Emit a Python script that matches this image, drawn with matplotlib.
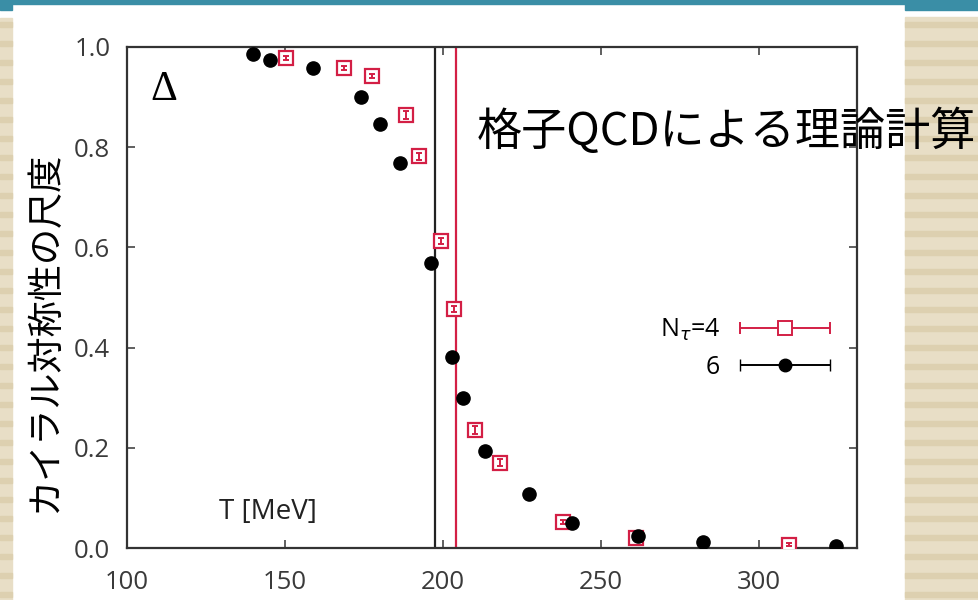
import matplotlib
matplotlib.use("Agg")
import matplotlib.pyplot as plt
from matplotlib.patches import Rectangle
from matplotlib.container import ErrorbarContainer
from matplotlib.legend_handler import HandlerErrorbar
import numpy as np

# chiral condensate measure vs temperature (lattice QCD)
t_n4 = [150.3, 168.7, 177.5, 188.3, 192.4, 199.4, 203.5, 210.1, 218.0, 238.0, 261.0, 309.5]
d_n4 = [0.978, 0.958, 0.942, 0.864, 0.782, 0.612, 0.478, 0.236, 0.170, 0.052, 0.020, 0.006]
e_n4 = [0.004, 0.004, 0.004, 0.008, 0.007, 0.006, 0.006, 0.008, 0.007, 0.004, 0.004, 0.003]

t_n6 = [139.9, 145.3, 158.9, 174.0, 180.0, 186.4, 196.2, 202.8, 206.3, 213.3, 227.2, 240.8, 261.7, 282.3, 324.4]
d_n6 = [0.986, 0.974, 0.958, 0.900, 0.846, 0.768, 0.568, 0.382, 0.300, 0.194, 0.108, 0.050, 0.024, 0.012, 0.004]

tc_n6 = 197.5
tc_n4 = 204.0

x_ticks = [100, 150, 200, 250, 300]
y_ticks = [0.0, 0.2, 0.4, 0.6, 0.8, 1.0]

RED = '#d31f45'
TEAL = '#3a8ea6'
BEIGE = '#e8dec6'
STRIPE = '#ddd0b0'

fig = plt.figure(figsize=(9.79, 6.0), dpi=100)
W, H = 979, 600

def px_rect(x0, y0, x1, y1, color):
    # rectangle given in pixel coords from top-left
    fig.patches.append(Rectangle((x0 / W, 1 - y1 / H), (x1 - x0) / W, (y1 - y0) / H,
                                 transform=fig.transFigure, color=color, zorder=0))

# slide background: teal bar and striped beige side panels
px_rect(0, 0, W, 4, TEAL)
px_rect(0, 0, 12, 10, TEAL)
px_rect(905, 0, W, 10, TEAL)
px_rect(0, 18, 12, H, BEIGE)
px_rect(905, 17, W, H, BEIGE)
for y in range(22, H, 19):
    px_rect(0, y, 12, y + 5, STRIPE)
    px_rect(905, y, W, y + 5, STRIPE)

ax = fig.add_axes([127 / W, 52 / H, 730 / W, 501 / H])

ax.axvline(tc_n6, color='#222222', lw=1.6, zorder=1)
ax.axvline(tc_n4, color=RED, lw=1.6, zorder=1)

ax.plot(t_n4, d_n4, 's', ms=10, mfc='white', mec=RED, mew=1.6, zorder=3)
ax.errorbar(t_n4, d_n4, yerr=e_n4, fmt='none', ecolor=RED, elinewidth=1.4,
            capsize=2.5, capthick=1.4, zorder=4)
ax.plot(t_n6, d_n6, 'o', ms=9.5, color='black', zorder=5)

ax.set_xlim(100, 331)
ax.set_ylim(0, 1.0)
ax.set_xticks(x_ticks)
ax.set_yticks(y_ticks)
ax.set_yticklabels([f'{v:.1f}' for v in y_ticks])
ax.tick_params(direction='in', top=True, right=True, length=6, width=1.2,
               labelsize=18.5, labelcolor='#3a3a3a', color='#444444')
ax.tick_params(axis='x', pad=16)
ax.tick_params(axis='y', pad=12)
for lab in ax.get_xticklabels() + ax.get_yticklabels():
    lab.set_family('Open Sans')
for s in ax.spines.values():
    s.set_linewidth(1.6)
    s.set_color('#333333')

ax.text(0.05, 0.915, '\u0394', transform=ax.transAxes, fontsize=30, ha='center', va='center',
        family='Liberation Serif')
ax.text(0.193, 0.072, 'T [MeV]', transform=ax.transAxes, fontsize=20, ha='center', va='center',
        family='Open Sans', color='#222222')

# legend: one entry per legend so that labels are right-aligned
p4 = ax.errorbar([np.nan], [np.nan], xerr=[1], fmt='s', ms=10, mfc='white', mec=RED, mew=1.4,
                 ecolor=RED, elinewidth=1.4, capsize=4)
p6 = ax.errorbar([np.nan], [np.nan], xerr=[1], fmt='o', ms=9, color='black',
                 ecolor='black', elinewidth=1.4, capsize=4)
hmap = {ErrorbarContainer: HandlerErrorbar(xerr_size=1.8)}
common = dict(loc='center right', frameon=False, markerfirst=False, handlelength=3.7,
              handletextpad=0.75, borderpad=0, borderaxespad=0, handler_map=hmap,
              prop={'family': 'Open Sans', 'size': 18})
leg1 = ax.legend([p4], [r'N$_\tau$=4'], bbox_to_anchor=(0.965, 0.435), **common)
ax.add_artist(leg1)
ax.legend([p6], ['6'], bbox_to_anchor=(0.965, 0.36), **common)

fig.text(477 / W, 1 - 132 / H, '格子QCDによる理論計算', fontsize=32.5, ha='left', va='center',
         family=['Noto Sans CJK JP', 'DejaVu Sans'], color='black')
fig.text(45 / W, 1 - 332 / H, 'カイラル対称性の尺度', fontsize=26, rotation=90,
         ha='center', va='center', family=['Noto Sans CJK JP', 'DejaVu Sans'], color='black')

fig.savefig('out.png', dpi=100)
